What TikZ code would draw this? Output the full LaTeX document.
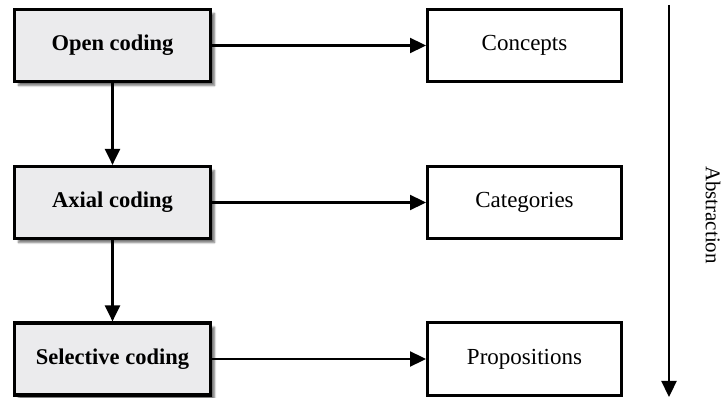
\documentclass[tikz,border=0pt]{standalone}
\usepackage{fontspec}
\setmainfont{Liberation Serif}
\usetikzlibrary{arrows.meta,shadows.blur}
\definecolor{stagefill}{HTML}{EBEBED}
\begin{document}
\begin{tikzpicture}[x=1pt,y=-1pt,
  stage/.style={draw=black, line width=3.2pt, fill=stagefill, minimum width=196pt, minimum height=72pt,
    inner sep=0pt, font=\fontsize{22.5}{26}\selectfont\bfseries,
    blur shadow={shadow xshift=4pt, shadow yshift=-4pt, shadow blur steps=6, shadow opacity=55}},
  result/.style={draw=black, line width=3pt, fill=white, minimum width=194pt, minimum height=72pt,
    inner sep=0pt, font=\fontsize{23}{27}\selectfont},
  flow/.style={line width=2.3pt, -{Triangle[length=16pt,width=15pt]}}]
\useasboundingbox (0,0) rectangle (721,398);
% coding stages
\node[stage] (open) at (112.5,45.5) {Open coding};
\node[stage] (axial) at (112.5,202.5) {Axial coding};
\node[stage] (selective) at (112.5,359) {Selective coding};
% outcomes
\node[result] (concepts) at (524.5,45.5) {Concepts};
\node[result] (categories) at (524.5,202.5) {Categories};
\node[result] (propositions) at (524.5,359) {Propositions};
% connectors
\draw[flow] (open) -- (axial);
\draw[flow] (axial) -- (selective);
\draw[flow] (open) -- (concepts);
\draw[flow] (axial) -- (categories);
\draw[flow] (selective) -- (propositions);
% abstraction axis
\coordinate (top) at (669,5);
\coordinate (bottom) at (669,397);
\draw[flow] (top) -- (bottom);
\node[rotate=-90, font=\fontsize{21}{25}\selectfont] (abs) at (713,215) {Abstraction};
\end{tikzpicture}
\end{document}
